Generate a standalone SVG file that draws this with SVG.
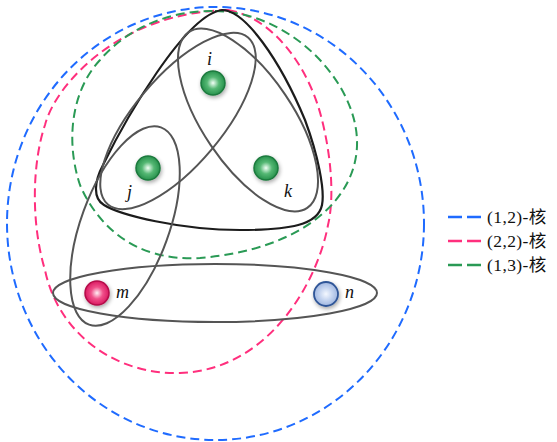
<svg xmlns="http://www.w3.org/2000/svg" width="557" height="442" viewBox="0 0 557 442">
<style>
.dash{fill:none;stroke-width:2;stroke-dasharray:9 5;stroke-linecap:butt}
.blue{stroke:#1f6bff}
.pink{stroke:#ff2f7d}
.green{stroke:#2a9a55}
.hyper{fill:none;stroke:#555;stroke-width:2}
.tri{fill:none;stroke:#1c1c1c;stroke-width:2.2}
.lbl{font-family:"Liberation Serif",serif;font-style:italic;font-size:18px;fill:#111}
.leg{font-family:"Liberation Serif","Noto Sans CJK SC",serif;font-size:17.5px;letter-spacing:0.4px;fill:#111}
.legline{fill:none;stroke-width:2.5;stroke-dasharray:14 5}
</style>
<defs>
<radialGradient id="gGreen" cx="0.5" cy="0.5" r="0.55">
<stop offset="0" stop-color="#f2fff6"/>
<stop offset="0.45" stop-color="#55b874"/>
<stop offset="1" stop-color="#1f8a45"/>
</radialGradient>
<radialGradient id="gPink" cx="0.5" cy="0.5" r="0.55">
<stop offset="0" stop-color="#fff0f5"/>
<stop offset="0.45" stop-color="#f0508a"/>
<stop offset="1" stop-color="#d6105a"/>
</radialGradient>
<radialGradient id="gBlue" cx="0.5" cy="0.5" r="0.55">
<stop offset="0" stop-color="#f4f8ff"/>
<stop offset="0.5" stop-color="#c3d3ef"/>
<stop offset="1" stop-color="#98b0dc"/>
</radialGradient>
<filter id="sh" x="-50%" y="-50%" width="200%" height="200%">
<feGaussianBlur in="SourceAlpha" stdDeviation="2"/>
<feOffset dx="1" dy="2" result="b"/>
<feComponentTransfer><feFuncA type="linear" slope="0.35"/></feComponentTransfer>
<feMerge><feMergeNode/><feMergeNode in="SourceGraphic"/></feMerge>
</filter>
</defs>
<rect width="557" height="442" fill="#fff"/>
<g id="connectors">
<ellipse id="core-1-2" class="dash blue" cx="215.5" cy="223.5" rx="208.5" ry="216.5"/>
<path id="core-2-2" class="dash pink" d="M228,10 C275,18 310,70 322,120 C332,160 334,200 328,225 C318,280 270,370 180,373 C115,375 58,333 45,270 C30,220 33,160 45,125 C55,85 120,12 228,10 Z"/>
<path id="core-1-3" class="dash green" d="M215,11 C290,12 355,80 357,140 C359,200 300,250 200,258 C130,262 95,220 80,185 C65,140 72,90 100,60 C130,25 175,10 215,11 Z"/>
<path id="edge-ijk" class="tri" d="M222,10 C245,10 280,60 305,120 C318,155 325,190 322,205 C318,225 290,230 240,230 C180,230 120,215 104,205 C92,198 95,180 103,165 C125,120 185,15 222,10 Z"/>
<ellipse id="edge-ik" class="hyper" cx="248" cy="120" rx="106" ry="45" transform="rotate(56 248 120)"/>
<ellipse id="edge-ij" class="hyper" cx="178" cy="121" rx="109" ry="44" transform="rotate(-50 178 121)"/>
<ellipse id="edge-jm" class="hyper" cx="125" cy="226" rx="105" ry="44" transform="rotate(110 125 226)"/>
<ellipse id="edge-mn" class="hyper" cx="215" cy="293" rx="162" ry="29"/>
</g>
<g id="node-i"><circle cx="213" cy="83" r="12" fill="url(#gGreen)" stroke="#1c7a3e" stroke-width="1.5" filter="url(#sh)"/><text class="lbl" x="207" y="65">i</text></g>
<g id="node-j"><circle cx="148" cy="168" r="12" fill="url(#gGreen)" stroke="#1c7a3e" stroke-width="1.5" filter="url(#sh)"/><text class="lbl" x="127" y="198">j</text></g>
<g id="node-k"><circle cx="266" cy="168" r="12" fill="url(#gGreen)" stroke="#1c7a3e" stroke-width="1.5" filter="url(#sh)"/><text class="lbl" x="284" y="197">k</text></g>
<g id="node-m"><circle cx="97" cy="293" r="12" fill="url(#gPink)" stroke="#b30a48" stroke-width="1.5" filter="url(#sh)"/><text class="lbl" x="116" y="298">m</text></g>
<g id="node-n"><circle cx="326" cy="294" r="12" fill="url(#gBlue)" stroke="#2f5597" stroke-width="1.8" filter="url(#sh)"/><text class="lbl" x="345" y="298">n</text></g>
<g id="legend">
<line class="legline blue" x1="448" y1="217" x2="481" y2="217"/>
<text class="leg" x="487" y="223">(1,2)-核</text>
<line class="legline pink" x1="448" y1="241" x2="481" y2="241"/>
<text class="leg" x="487" y="247">(2,2)-核</text>
<line class="legline green" x1="448" y1="265" x2="481" y2="265"/>
<text class="leg" x="487" y="271">(1,3)-核</text>
</g>
</svg>
